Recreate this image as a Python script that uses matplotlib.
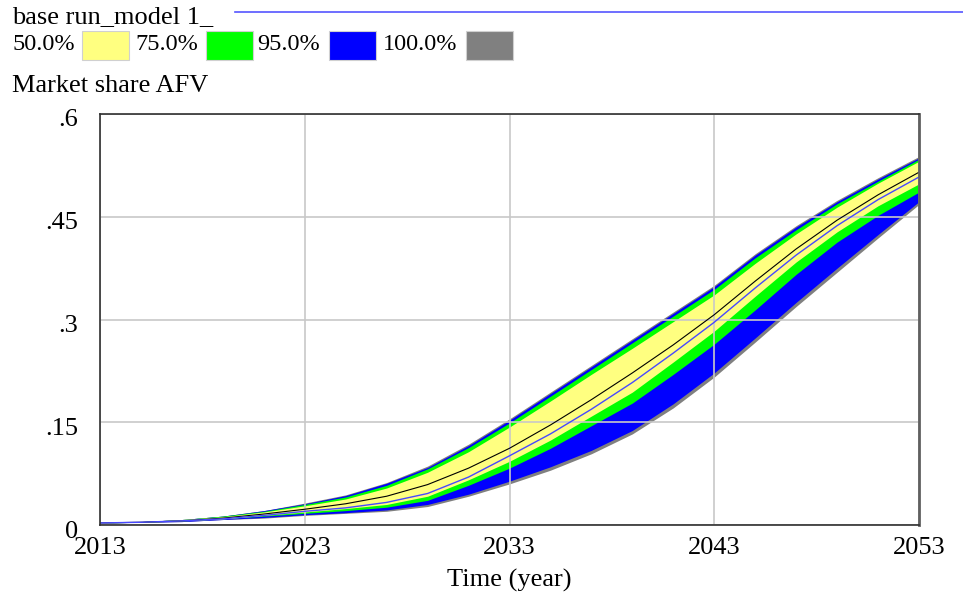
import matplotlib
matplotlib.use("Agg")
import matplotlib.pyplot as plt
import matplotlib.transforms as mtransforms
from matplotlib.patches import Rectangle
from matplotlib.lines import Line2D

# values (Market share AFV, sensitivity bands)
years = list(range(2013, 2054, 2))
max_all = [.003, .005, .008, .013, .021, .032, .044, .062, .086, .118, .155,
           .194, .233, .272, .311, .350, .396, .437, .474, .507, .538]
hi95 = [.003, .005, .008, .013, .021, .031, .043, .061, .084, .116, .153,
        .192, .231, .270, .309, .348, .394, .435, .472, .505, .536]
hi75 = [.003, .005, .008, .013, .020, .030, .041, .058, .082, .113, .149,
        .188, .227, .266, .305, .344, .390, .431, .469, .502, .534]
hi50 = [.003, .005, .008, .012, .019, .028, .038, .054, .077, .107, .143,
        .181, .220, .258, .297, .336, .382, .425, .464, .499, .531]
median = [.003, .004, .006, .010, .016, .023, .031, .042, .059, .083, .112,
          .146, .183, .222, .263, .307, .356, .403, .445, .482, .515]
base_run = [.003, .004, .006, .009, .014, .020, .025, .033, .046, .070, .101,
            .133, .169, .208, .251, .296, .346, .394, .437, .475, .508]
lo50 = [.003, .004, .006, .009, .014, .019, .024, .030, .042, .066, .093,
        .124, .159, .194, .238, .283, .334, .384, .428, .466, .498]
lo75 = [.003, .004, .006, .009, .013, .017, .021, .026, .036, .058, .083,
        .112, .145, .178, .220, .264, .314, .366, .413, .452, .486]
lo95 = [.003, .004, .005, .008, .011, .015, .018, .022, .030, .045, .064,
        .085, .109, .138, .177, .222, .273, .325, .375, .424, .472]
min_all = [.003, .004, .005, .008, .010, .014, .017, .020, .027, .042, .060,
           .080, .104, .133, .171, .216, .267, .319, .369, .419, .468]

band_labels = ["50.0%", "75.0%", "95.0%", "100.0%"]
band_colors = ["#ffff80", "#00ff00", "#0000ff", "#808080"]
xticks = [2013, 2023, 2033, 2043, 2053]
yticks = [0, 0.15, 0.3, 0.45, 0.6]
ytick_labels = ["0", ".15", ".3", ".45", ".6"]

plt.rcParams['font.family'] = ['Liberation Serif', 'DejaVu Serif']
fs = 19

fig = plt.figure(figsize=(9.63, 5.94), dpi=100)
ax = fig.add_axes([100/963, 69/594, 819/963, 411/594])

ax.fill_between(years, min_all, max_all, color=band_colors[3], lw=0, zorder=1)
ax.fill_between(years, lo95, hi95, color=band_colors[2], lw=0, zorder=1)
ax.fill_between(years, lo75, hi75, color=band_colors[1], lw=0, zorder=1)
ax.fill_between(years, lo50, hi50, color=band_colors[0], lw=0, zorder=1)
ax.plot(years, median, color='black', lw=0.8, zorder=3)
ax.plot(years, base_run, color='#4848ff', lw=1.0, zorder=3)

ax.set_xlim(2013, 2053)
ax.set_ylim(0, 0.6)
ax.set_xticks(xticks)
ax.set_xticklabels([str(x) for x in xticks], fontsize=fs)
ax.set_yticks(yticks)
ax.set_yticklabels(ytick_labels, fontsize=fs)
ax.tick_params(axis='x', length=0, pad=9)
ax.tick_params(axis='y', length=0, pad=16)
# y labels sit a little below their grid lines in the reference
shift = mtransforms.ScaledTranslation(0, -4/100, fig.dpi_scale_trans)
for lbl in ax.get_yticklabels():
    lbl.set_transform(lbl.get_transform() + shift)
ax.grid(True, color='#c8c8c8', lw=1.2)
for g in ax.get_xgridlines() + ax.get_ygridlines():
    g.set_zorder(2)
for s in ax.spines.values():
    s.set_color('#303030')
    s.set_linewidth(1.2)
    s.set_zorder(4)
ax.spines['right'].set_color('#606060')
ax.spines['right'].set_linewidth(2)
ax.set_xlabel("Time (year)", fontsize=fs, labelpad=7)

# legend header drawn in figure pixels
W, H = 963, 594
fig.text(12/W, 1 - 17/H, "base run_model 1_", fontsize=fs, va='center', ha='left')
fig.add_artist(Line2D([235/W, 1.0], [1 - 12/H, 1 - 12/H], color='#5555ff', lw=1.2))

label_x = [12, 135, 257, 383]
box_x = [82, 206, 329, 466]
for lab, lx, bx, c in zip(band_labels, label_x, box_x, band_colors):
    fig.text(lx/W, 1 - 45/H, lab, fontsize=17.5, va='center', ha='left')
    fig.add_artist(Rectangle((bx/W, 1 - 60/H), 47/W, 29/H, transform=fig.transFigure,
                             facecolor=c, edgecolor='#d0d0d0', lw=0.8))
fig.text(12/W, 1 - 86/H, "Market share AFV", fontsize=fs, va='center', ha='left')

fig.savefig("out.png", dpi=100)
